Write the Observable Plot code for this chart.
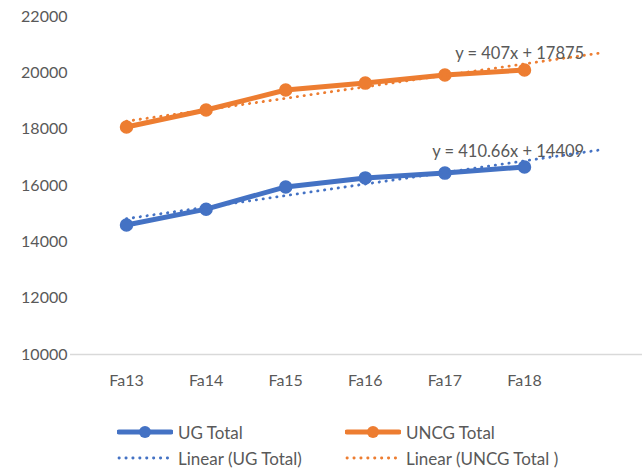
<!DOCTYPE html>
<html>
<head>
<meta charset="utf-8">
<script src="https://cdn.jsdelivr.net/npm/d3@7"></script>
<script src="https://cdn.jsdelivr.net/npm/@observablehq/plot@0.6"></script>
<style>
  html, body { margin: 0; padding: 0; background: #fff; }
  body { width: 642px; height: 471px; overflow: hidden; font-family: Lato, "Open Sans", sans-serif; }
  #chart svg { display: block; }
  .legend { position: relative; height: 71px; font-size: 17px; color: #595959; }
  .item { position: absolute; display: flex; align-items: center; height: 20px; }
  .item svg { margin-right: 5px; }
</style>
</head>
<body>
<div id="chart"></div>
<div class="legend" id="legend"></div>
<script>
const categories = ["Fa13", "Fa14", "Fa15", "Fa16", "Fa17", "Fa18"];
const ugTotal   = [14600, 15160, 15950, 16270, 16440, 16660];
const uncgTotal = [18075, 18680, 19390, 19635, 19920, 20100];
const yTicks = [10000, 12000, 14000, 16000, 18000, 20000, 22000];
// Excel linear trendlines (x = 1..6, forecast forward 1 period)
const trendUG   = {slope: 410.66, intercept: 14409, label: "y = 410.66x + 14409"};
const trendUNCG = {slope: 407,    intercept: 17875, label: "y = 407x + 17875"};
const trendRange = [1, 7];

const BLUE = "#4472C4", ORANGE = "#ED7D31", TXT = "#595959";

const toRows = (vals) => vals.map((v, i) => ({x: i + 1, y: v}));
const trendRows = (t) => trendRange.map(x => ({x, y: t.slope * x + t.intercept}));
const labelRow = (t) => [{x: trendRange[1], y: t.slope * trendRange[1] + t.intercept, label: t.label}];

const ug = toRows(ugTotal), uncg = toRows(uncgTotal);

const chart = Plot.plot({
  width: 642,
  height: 400,
  marginLeft: 70,
  marginRight: 0,
  marginTop: 16,
  marginBottom: 46,
  style: {fontFamily: "Lato, 'Open Sans', sans-serif", fontSize: "16px", color: TXT, background: "#fff"},
  x: {type: "linear", domain: [1, 6], range: [126, 524]},
  y: {domain: [10000, 22000]},
  marks: [
    Plot.ruleY([10000], {stroke: "#d9d9d9", strokeWidth: 1.5}),
    Plot.axisY({ticks: yTicks, tickSize: 0, tickPadding: 3, tickFormat: d => String(d), fill: TXT, fontSize: 16, label: null}),
    Plot.axisX({ticks: categories.map((c, i) => i + 1), tickFormat: i => categories[i - 1], tickSize: 0, tickPadding: 20, fill: TXT, fontSize: 16, label: null}),
    Plot.line(ug, {x: "x", y: "y", stroke: BLUE, strokeWidth: 5, strokeLinejoin: "round"}),
    Plot.dot(ug, {x: "x", y: "y", r: 6, fill: BLUE, stroke: BLUE}),
    Plot.line(uncg, {x: "x", y: "y", stroke: ORANGE, strokeWidth: 5, strokeLinejoin: "round"}),
    Plot.dot(uncg, {x: "x", y: "y", r: 6, fill: ORANGE, stroke: ORANGE}),
    Plot.line(trendRows(trendUG), {x: "x", y: "y", stroke: BLUE, strokeWidth: 2.8, strokeLinecap: "round", strokeDasharray: "0.3 6.6"}),
    Plot.line(trendRows(trendUNCG), {x: "x", y: "y", stroke: ORANGE, strokeWidth: 2.8, strokeLinecap: "round", strokeDasharray: "0.3 6.6"}),
    Plot.text(labelRow(trendUG), {x: "x", y: "y", text: "label", textAnchor: "end", dx: -20, dy: 2, fill: TXT, fontSize: 16.5}),
    Plot.text(labelRow(trendUNCG), {x: "x", y: "y", text: "label", textAnchor: "end", dx: -20, dy: 1, fill: TXT, fontSize: 16.5})
  ]
});
document.getElementById("chart").appendChild(chart);

// Legend
const legendItems = [
  {label: "UG Total", color: BLUE, dotted: false, left: 117, top: 22},
  {label: "UNCG Total", color: ORANGE, dotted: false, left: 345, top: 22},
  {label: "Linear (UG Total)", color: BLUE, dotted: true, left: 117, top: 48},
  {label: "Linear (UNCG Total )", color: ORANGE, dotted: true, left: 345, top: 48}
];
const legend = document.getElementById("legend");
for (const it of legendItems) {
  const div = document.createElement("div");
  div.className = "item";
  div.style.left = it.left + "px";
  div.style.top = it.top + "px";
  const sw = it.dotted
    ? `<svg width="56" height="20"><line x1="2" y1="10" x2="55" y2="10" stroke="${it.color}" stroke-width="2.8" stroke-linecap="round" stroke-dasharray="0.3 6.6"/></svg>`
    : `<svg width="56" height="20"><line x1="2" y1="10" x2="54" y2="10" stroke="${it.color}" stroke-width="5" stroke-linecap="round"/><circle cx="28" cy="10" r="6" fill="${it.color}"/></svg>`;
  div.innerHTML = sw + `<span>${it.label}</span>`;
  legend.appendChild(div);
}
</script>
</body>
</html>
